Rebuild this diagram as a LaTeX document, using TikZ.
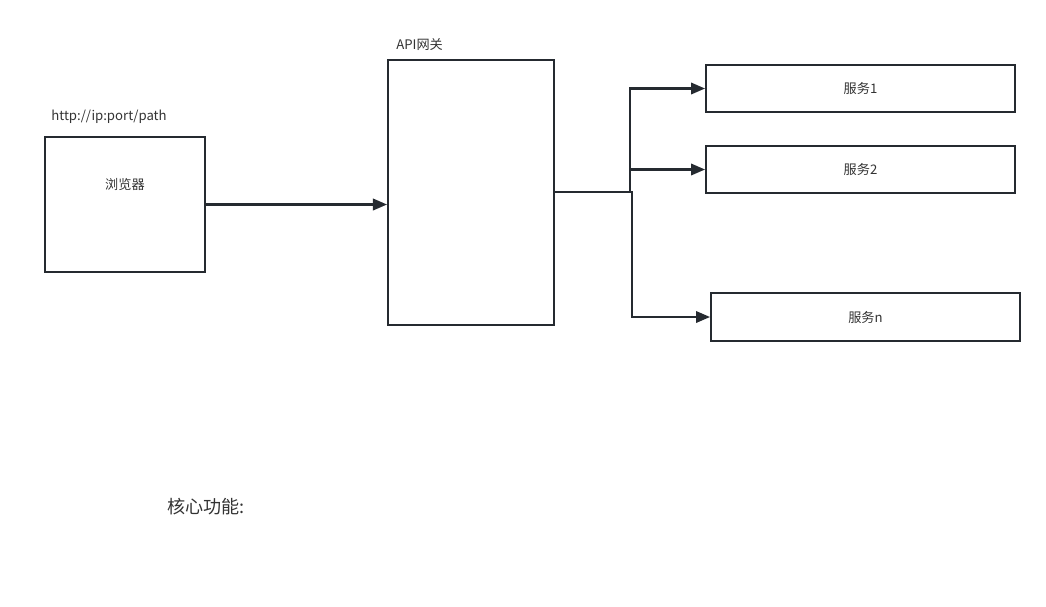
\documentclass[tikz,border=0pt]{standalone}
\usepackage{fontspec}
\setmainfont{Noto Sans CJK SC}
\usetikzlibrary{arrows.meta}
\definecolor{edge}{HTML}{252A30}
\definecolor{txt}{HTML}{333333}
\tikzset{
    box/.style={draw=edge, line width=1.1pt, inner sep=0pt, text=txt, font=\fontsize{7.5}{9}\selectfont},
    caption/.style={anchor=west, inner sep=0pt, text=txt, font=\fontsize{7.5}{9}\selectfont},
    link/.style={draw=edge, line width=1.3pt, -{Triangle[length=8pt,width=6.5pt]}}
}
\begin{document}
\begin{tikzpicture}[x=0.02cm, y=-0.02cm]
        \useasboundingbox (0,0) rectangle (1046,606);

        \node[box, minimum width=3.2cm, minimum height=2.7cm] (browser) at (125,204.5) {};
        \node[caption, anchor=center] (browsertext) at (125,184) {浏览器};
        \node[caption] (url) at (51,117) {http://ip:port/path};

        \node[box, minimum width=3.32cm, minimum height=5.3cm] (gateway) at (471,192.5) {};
        \node[caption] (gatewaylabel) at (396,45) {API网关};

        \node[box, minimum width=6.18cm, minimum height=0.94cm] (service1) at (860.5,88.5) {服务1};
        \node[box, minimum width=6.18cm, minimum height=0.94cm] (service2) at (860.5,169.5) {服务2};
        \node[box, minimum width=6.18cm, minimum height=0.96cm] (servicen) at (865.5,317) {服务n};

        \node[caption, font=\fontsize{10.3}{12}\selectfont] (core) at (167,507) {核心功能:};

        \coordinate (branch) at (630,192);
        \coordinate (branchn) at (632,192);

        \draw[link] (browser.east) -- (gateway.west |- browser.east);
        \draw[link] (gateway.east |- branch) -- (branch) |- (service1.west);
        \draw[link] (branch) |- (service2.west);
        \draw[link] (branch) -- (branchn) |- (servicen.west);
    \end{tikzpicture}
\end{document}
